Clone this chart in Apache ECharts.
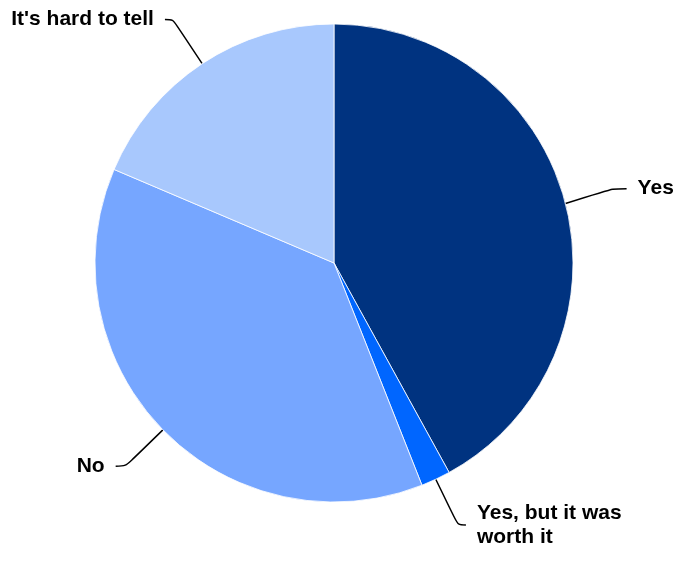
<!DOCTYPE html>
<html>
<head>
<meta charset="utf-8">
<script src="https://cdn.jsdelivr.net/npm/echarts@6/dist/echarts.min.js"></script>
<style>html,body{margin:0;padding:0;background:#fff}#c{width:674px;height:562px}</style>
</head>
<body>
<div id="c"></div>
<script>
var categories = ["Yes", "Yes, but it was\nworth it", "No", "It's hard to tell"];
var values = [42, 2, 37.4, 18.6];
var colors = ["#003380", "#0066ff", "#76a6ff", "#a8c8fd"];
var lineLen = [60, 52, 52, 53];
var lineLen2 = [14, 8, 10, 8];
var labelPadTop = [0, 24, 0, 0];

var chart = echarts.init(document.getElementById('c'));
var data = categories.map(function (c, i) {
  return {
    name: c, value: values[i],
    itemStyle: { color: colors[i] },
    label: { padding: [labelPadTop[i], 0, 0, 0] },
    labelLine: { length: lineLen[i], length2: lineLen2[i] }
  };
});
chart.setOption({
  animation: false,
  series: [{
    type: 'pie',
    left: 0,
    top: 0,
    width: 760,
    height: 562,
    center: [334, 263],
    radius: 239,
    startAngle: 90,
    clockwise: true,
    data: data,
    itemStyle: { borderColor: '#ffffff', borderWidth: 0.8 },
    label: {
      show: true,
      formatter: '{b}',
      color: '#000',
      fontFamily: 'Liberation Sans, Arial, sans-serif',
      fontWeight: 'bold',
      fontSize: 21,
      lineHeight: 24,
      overflow: 'none',
      distanceToLabelLine: 11
    },
    labelLine: {
      show: true,
      smooth: 0.3,
      lineStyle: { color: '#000', width: 1.5 }
    },
    emphasis: { disabled: true }
  }]
});
</script>
</body>
</html>
